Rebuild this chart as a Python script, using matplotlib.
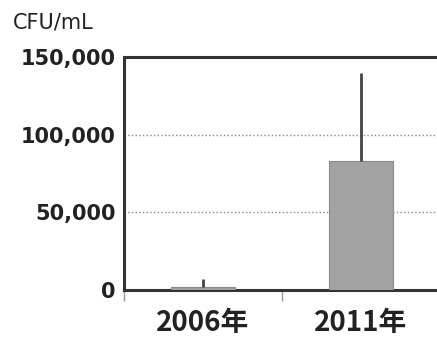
import matplotlib.pyplot as plt
import matplotlib.ticker as mticker

# datos
years = ['2006年', '2011年']
cfu = [2000, 83000]
cfu_err = [5000, 57000]
y_ticks = [0, 50000, 100000, 150000]

fig = plt.figure(figsize=(4.37, 3.47), dpi=100)
ax = fig.add_axes([124 / 437, 57 / 347, 316 / 437, 233 / 347])

x = range(len(years))
ax.bar(x, cfu, width=0.4, color='#a3a3a3', edgecolor='#8a8a8a', linewidth=0.8,
       yerr=[[0, 0], cfu_err], error_kw=dict(ecolor='#444444', elinewidth=2, capsize=0),
       zorder=3)

ax.set_xlim(-0.5, 1.5)
ax.set_ylim(0, 150000)
ax.set_yticks(y_ticks)
ax.yaxis.set_major_formatter(mticker.FuncFormatter(lambda v, p: f'{int(v):,}'))
ax.grid(axis='y', linestyle=':', color='#888888', linewidth=1, zorder=0)

for s in ax.spines.values():
    s.set_linewidth(2.2)
    s.set_color('#333333')

ax.tick_params(axis='y', length=0, pad=6)
for lbl in ax.get_yticklabels():
    lbl.set_fontsize(15)
    lbl.set_fontweight('bold')
    lbl.set_color('#222222')

ax.set_xticks(list(x))
ax.set_xticklabels(years, family=['Noto Sans CJK JP', 'DejaVu Sans'],
                   fontsize=20, fontweight='bold', color='#222222')
ax.tick_params(axis='x', which='major', length=0, pad=14)
ax.set_xticks([-0.5, 0.5], minor=True)
ax.tick_params(axis='x', which='minor', length=8, width=1, color='#999999')

fig.text(13 / 437, 1 - 22 / 347, 'CFU/mL', fontsize=15, color='#222222', va='center')

fig.savefig('out.png', dpi=100)
